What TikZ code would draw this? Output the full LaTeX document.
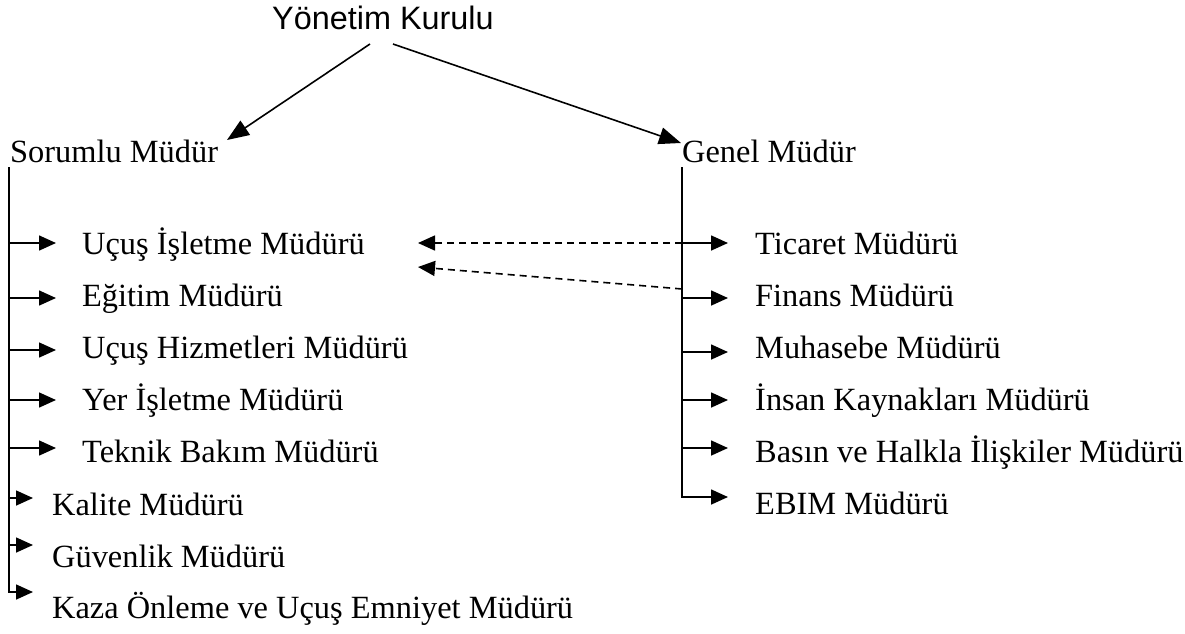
\documentclass[tikz,border=0pt]{standalone}
\usepackage{fontspec}
\setmainfont{Liberation Serif}
\newfontfamily\boardfont{Liberation Sans}
\usetikzlibrary{arrows.meta}

\tikzset{
  unit/.style={anchor=base west, inner sep=0pt, font=\fontsize{32.4}{38}\selectfont},
  arr/.style={-{Triangle[length=17pt,width=15pt]}, line width=1.6pt, line join=miter},
  bigarr/.style={arr, -{Triangle[length=22pt,width=17pt]}},
  dasharr/.style={arr, dash pattern=on 7pt off 5pt},
}

\begin{document}
\begin{tikzpicture}[x=1pt,y=-1pt]
\useasboundingbox (0,0) rectangle (1185,633);

% heads
\node[unit, anchor=base, font=\boardfont\fontsize{32.4}{38}\selectfont] (board) at (383,29) {Yönetim Kurulu};
\node[unit] (sorumlu) at (10,162) {Sorumlu Müdür};
\node[unit] (genel) at (682,162) {Genel Müdür};

\coordinate (bL) at (370,44);
\coordinate (bR) at (393,44);
\coordinate (tL) at (227,140);
\coordinate (tR) at (681,143);
\draw[bigarr] (bL) -- (tL);
\draw[bigarr] (bR) -- (tR);

% Sorumlu Mudur branch
\foreach \name/\y/\ya/\txt in {ucus/254/243/Uçuş İşletme Müdürü, egitim/306/298/Eğitim Müdürü,
    hizmet/358/350/Uçuş Hizmetleri Müdürü, yer/410/400/Yer İşletme Müdürü,
    teknik/462/448/Teknik Bakım Müdürü}{
  \node[unit] (\name) at (82,\y) {\txt};
  \coordinate (s-\name) at (9,\ya);
  \draw[arr, shorten >=26pt] (s-\name) -- (s-\name -| \name.west);
}
\foreach \name/\y/\ya/\txt in {kalite/515/498/Kalite Müdürü, guvenlik/567/545/Güvenlik Müdürü,
    kaza/618/592/Kaza Önleme ve Uçuş Emniyet Müdürü}{
  \node[unit] (\name) at (52,\y) {\txt};
  \coordinate (s-\name) at (9,\ya);
}
\coordinate (sTop) at (9,167);
\draw[arr, shorten >=19pt] (s-kalite) -- (s-kalite -| kalite.west);
\draw[arr, shorten >=19pt] (s-guvenlik) -- (s-guvenlik -| guvenlik.west);
\draw[arr, shorten >=19pt] (sTop) -- (s-kaza) -- (s-kaza -| kaza.west);

% Genel Mudur branch
\foreach \name/\y/\ya/\txt in {ticaret/254/243/Ticaret Müdürü, finans/306/298/Finans Müdürü,
    muhasebe/358/352/Muhasebe Müdürü, insan/410/400/İnsan Kaynakları Müdürü,
    basin/462/448/Basın ve Halkla İlişkiler Müdürü, ebim/514/497/EBIM Müdürü}{
  \node[unit] (\name) at (755,\y) {\txt};
  \coordinate (g-\name) at (682,\ya);
}
\coordinate (gTop) at (682,167);
\foreach \name in {ticaret,finans,muhasebe,insan,basin}{
  \draw[arr, shorten >=27pt] (g-\name) -- (g-\name -| \name.west);
}
\draw[arr, shorten >=27pt] (gTop) -- (g-ebim) -- (g-ebim -| ebim.west);

% dashed links
\coordinate (g-dash) at (682,289);
\coordinate (d1) at (418,243);
\coordinate (d2) at (418,267);
\draw[dasharr] (g-ticaret) -- (d1);
\draw[dasharr] (g-dash) -- (d2);
\end{tikzpicture}
\end{document}
